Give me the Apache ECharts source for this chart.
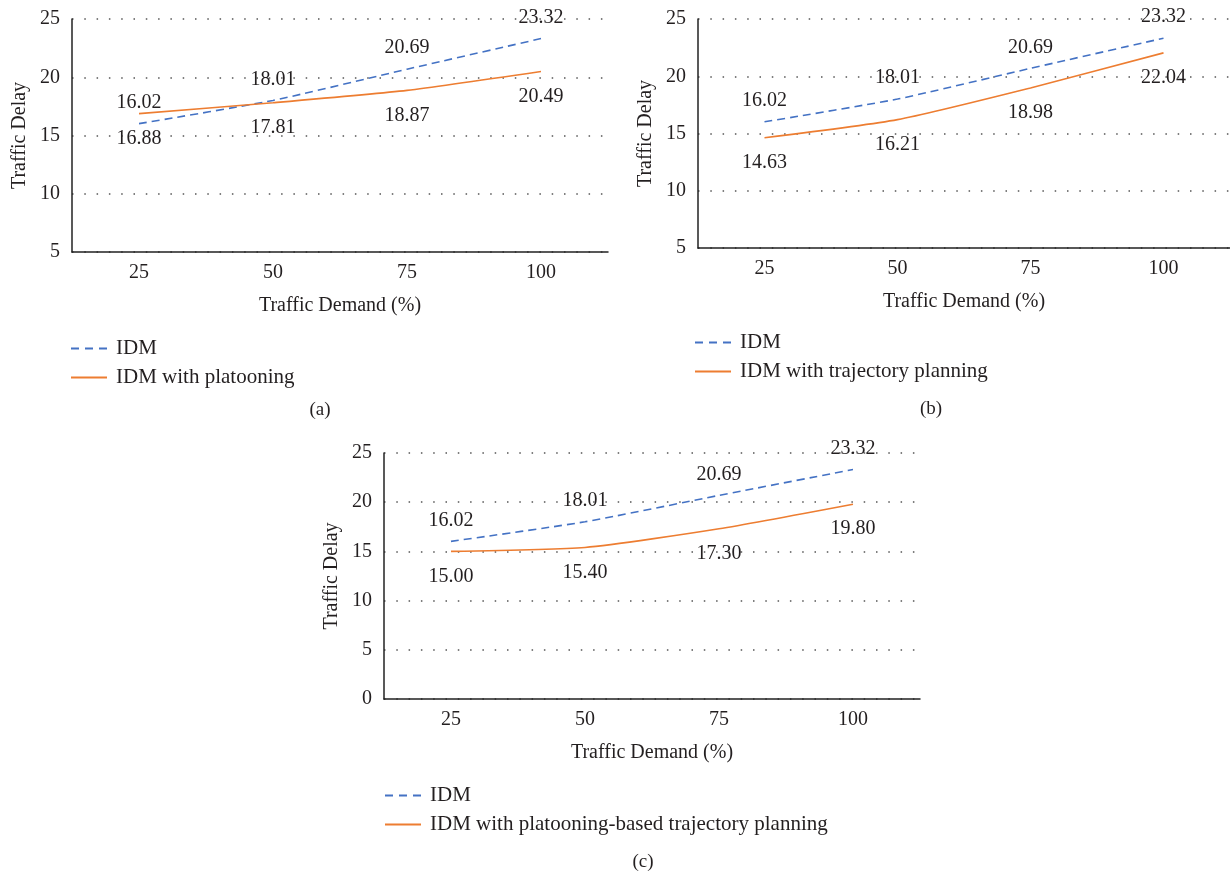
<!DOCTYPE html>
<html>
<head>
<meta charset="utf-8">
<script src="https://cdn.jsdelivr.net/npm/echarts@6/dist/echarts.min.js"></script>
<style>
html,body{margin:0;padding:0;background:#fff;}
#main{width:1230px;height:874px;}
</style>
</head>
<body>
<div id="main"></div>
<script>
const categories = ['25', '50', '75', '100'];
const idm = [16.02, 18.01, 20.69, 23.32];
const idmPlatooning = [16.88, 17.81, 18.87, 20.49];
const idmTrajectory = [14.63, 16.21, 18.98, 22.04];
const idmPlatoonTraj = [15.00, 15.40, 17.30, 19.80];
const yTicksAB = [5, 10, 15, 20, 25];
const yTicksC = [0, 5, 10, 15, 20, 25];
const names = ['IDM', 'IDM with platooning', 'IDM with trajectory planning', 'IDM with platooning-based trajectory planning'];
const captions = ['(a)', '(b)', '(c)'];

const FONT = '"Liberation Serif", "DejaVu Serif", serif';
const FS = 20;
const TXT = '#231f20';
const BLUE = '#4472c4';
const ORANGE = '#ed7d31';
const DASH_ICON = 'path://M0,0h8v2h-8z M14,0h8v2h-8z M28,0h8v2h-8z';
const SOLID_ICON = 'path://M0,0h36v2h-36z';

const chart = echarts.init(document.getElementById('main'));

const grids = [
  {left: 72, top: 19, width: 536, height: 233},
  {left: 698, top: 19, width: 547, height: 229},
  {left: 384, top: 453, width: 536, height: 246}
];

function xAx(i) {
  return {
    type: 'category', gridIndex: i, data: categories, boundaryGap: true,
    axisLine: {show: true, lineStyle: {color: '#222', width: 1.5}},
    axisTick: {show: false},
    axisLabel: {color: TXT, fontFamily: FONT, fontSize: FS, margin: 11},
    name: 'Traffic Demand (%)', nameLocation: 'middle', nameGap: 44,
    nameTextStyle: {color: TXT, fontFamily: FONT, fontSize: FS}
  };
}
function yAx(i, ticks) {
  return {
    type: 'value', gridIndex: i, min: ticks[0], max: ticks[ticks.length - 1], interval: 5,
    axisLine: {show: true, lineStyle: {color: '#222', width: 1.5}},
    axisTick: {show: false},
    axisLabel: {color: TXT, fontFamily: FONT, fontSize: FS, margin: 12},
    splitLine: {show: true, lineStyle: {color: '#555', width: 1.5, type: [1.5, 10.8]}},
    name: 'Traffic Delay', nameLocation: 'middle', nameGap: 42,
    nameTextStyle: {color: TXT, fontFamily: FONT, fontSize: FS}
  };
}
function lineSeries(name, data, i, dashed) {
  return {
    name: name, type: 'line', xAxisIndex: i, yAxisIndex: i, data: data,
    symbol: 'none', smooth: 0.2,
    lineStyle: {color: dashed ? BLUE : ORANGE, width: 1.6, type: dashed ? [8, 5] : 'solid'},
    itemStyle: {color: dashed ? BLUE : ORANGE},
    emphasis: {disabled: true}, silent: true
  };
}
function labelSeries(data, i, top) {
  return {
    type: 'scatter', xAxisIndex: i, yAxisIndex: i, data: data,
    symbolSize: 0, itemStyle: {color: TXT, opacity: 1},
    label: {
      show: true, position: top ? 'top' : 'bottom', distance: top ? 11 : 15,
      color: TXT, opacity: 1, fontFamily: FONT, fontSize: FS,
      formatter: p => p.value.toFixed(2)
    },
    emphasis: {disabled: true}, silent: true, z: 5
  };
}
function legend(left, top, second) {
  return {
    orient: 'vertical', left: left, top: top, padding: 0,
    itemWidth: 36, itemHeight: 2, itemGap: 8, symbolKeepAspect: false,
    data: [{name: names[0], icon: DASH_ICON}, {name: second, icon: SOLID_ICON}],
    textStyle: {color: TXT, fontFamily: FONT, fontSize: 21, padding: [0, 0, 0, 4]},
    selectedMode: false
  };
}

chart.setOption({
  animation: false,
  grid: grids,
  xAxis: [xAx(0), xAx(1), xAx(2)],
  yAxis: [yAx(0, yTicksAB), yAx(1, yTicksAB), yAx(2, yTicksC)],
  legend: [
    legend(71, 338, names[1]),
    legend(695, 332, names[2]),
    legend(385, 785, names[3])
  ],
  series: [
    lineSeries(names[0], idm, 0, true),
    lineSeries(names[1], idmPlatooning, 0, false),
    lineSeries(names[0], idm, 1, true),
    lineSeries(names[2], idmTrajectory, 1, false),
    lineSeries(names[0], idm, 2, true),
    lineSeries(names[3], idmPlatoonTraj, 2, false),
    labelSeries(idm, 0, true),
    labelSeries(idmPlatooning, 0, false),
    labelSeries(idm, 1, true),
    labelSeries(idmTrajectory, 1, false),
    labelSeries(idm, 2, true),
    labelSeries(idmPlatoonTraj, 2, false)
  ],
  graphic: [
    {type: 'text', x: 320, y: 410, style: {text: captions[0], font: '19px ' + FONT, fill: TXT, align: 'center', verticalAlign: 'middle'}},
    {type: 'text', x: 931, y: 409, style: {text: captions[1], font: '19px ' + FONT, fill: TXT, align: 'center', verticalAlign: 'middle'}},
    {type: 'text', x: 643, y: 862, style: {text: captions[2], font: '19px ' + FONT, fill: TXT, align: 'center', verticalAlign: 'middle'}}
  ]
});
</script>
</body>
</html>
